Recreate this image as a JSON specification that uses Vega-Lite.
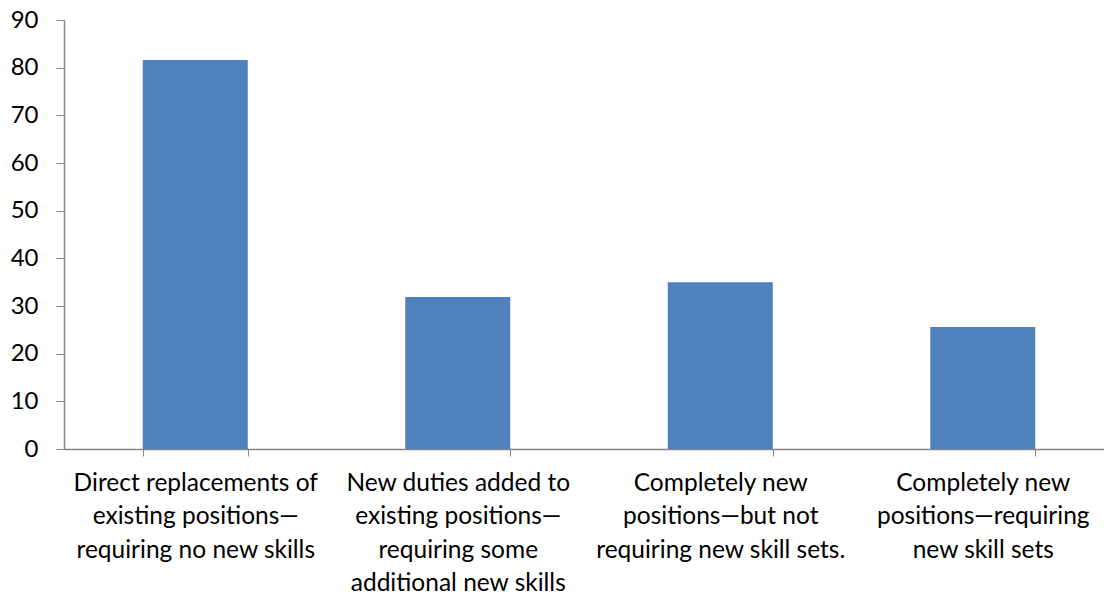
{
  "$schema": "https://vega.github.io/schema/vega-lite/v6.json",
  "width": 1040,
  "height": 429,
  "autosize": {"type": "none"},
  "padding": {"left": 64, "top": 20, "right": 0, "bottom": 147},
  "background": "white",
  "config": {
    "view": {"stroke": null},
    "font": "Lato",
    "axis": {"labelFont": "Lato", "labelColor": "#000000", "domainColor": "#868686", "tickColor": "#868686", "grid": false, "title": null}
  },
  "data": {
    "values": [
      {"category": "Direct replacements of\nexisting positions—\nrequiring no new skills", "value": 81.6},
      {"category": "New duties added to\nexisting positions—\nrequiring some\nadditional new skills", "value": 31.9},
      {"category": "Completely new\npositions—but not\nrequiring new skill sets.", "value": 35.0},
      {"category": "Completely new\npositions—requiring\nnew skill sets", "value": 25.6}
    ]
  },
  "mark": {"type": "bar", "color": "#4F81BD"},
  "encoding": {
    "x": {
      "field": "category",
      "type": "nominal",
      "sort": null,
      "scale": {"range": [0, 1050], "paddingInner": 0.6, "paddingOuter": 0.3},
      "axis": {
        "labelAngle": 0,
        "labelAlign": "center",
        "labelBaseline": "top",
        "labelFontSize": 24.5,
        "labelLineHeight": 33.5,
        "labelPadding": 15,
        "labelLimit": 0,
        "labelOverlap": false,
        "labelExpr": "split(datum.label, '\\n')",
        "tickBand": "extent",
        "tickSize": 7,
        "domainWidth": 1.5
      }
    },
    "y": {
      "field": "value",
      "type": "quantitative",
      "scale": {"domain": [0, 90], "nice": false},
      "axis": {
        "values": [0, 10, 20, 30, 40, 50, 60, 70, 80, 90],
        "labelFontSize": 24,
        "labelPadding": 18,
        "tickSize": 8,
        "domainWidth": 1.5
      }
    }
  }
}
